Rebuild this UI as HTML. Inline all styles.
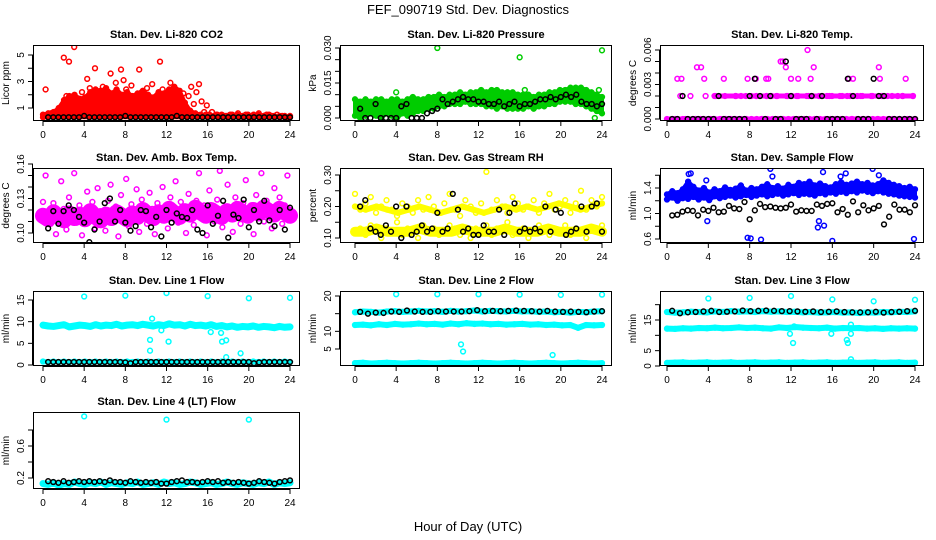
<!DOCTYPE html>
<html><head><meta charset="utf-8"><title>FEF_090719 Std. Dev. Diagnostics</title>
<style>
html,body{margin:0;padding:0;background:#fff;}
svg{display:block;font-family:"Liberation Sans",sans-serif;}
.pt{font-weight:bold;font-size:11px;}
.tk{font-size:10px;}
</style></head>
<body>
<svg id="chart" width="936" height="540" viewBox="0 0 936 540" xmlns="http://www.w3.org/2000/svg">
<text x="468" y="14" text-anchor="middle" font-size="13">FEF_090719  Std. Dev. Diagnostics</text>
<text x="468" y="531" text-anchor="middle" font-size="13">Hour of Day (UTC)</text>
</svg>
<script>
const xTicks=[0,4,8,12,16,20,24];
// CO2
const co2Red=[0.3,2.4,0.5,0.6,0.4,0.7,0.5,0.9,4.8,1.9,4.5,1.2,5.6,1.5,0.8,2.2,1.0,3.2,2.5,1.4,4.0,2.1,1.3,2.6,0.9,2.0,3.6,1.1,2.9,1.8,3.9,3.1,2.4,1.0,2.7,1.6,0.8,3.9,2.2,1.2,2.5,1.5,2.8,0.9,2.0,4.5,2.4,1.1,1.8,2.9,1.4,2.3,0.8,1.7,2.1,1.0,1.9,2.6,1.3,2.2,2.8,1.5,0.7,1.2,0.5,0.7,0.4,0.5,0.4,0.3,0.4,0.3,0.5,0.3,0.4,0.6,0.4,0.3,0.5,0.4,0.3,0.5,0.4,0.6,0.3,0.4,0.5,0.3,0.4,0.3,0.5,0.3,0.4,0.3,0.3,0.3];
const co2Red2=[0.5,0.6,0.7,1.0,1.6,1.9,2.0,1.7,1.8,2.2,2.4,2.3,2.5,2.1,2.4,2.0,2.2,1.9,2.1,2.3,2.0,1.8,2.2,2.1,2.4,2.6,2.3,1.4,0.8,0.6,0.5,0.5,0.4,0.5,0.5,0.4,0.5,0.5,0.4,0.5,0.4,0.5,0.4,0.5,0.4,0.4,0.4,0.4];
const co2Floor=[0.3,0.3,0.3,0.3,0.3,0.3,0.3,0.3,0.3,0.3,0.3,0.3,0.3,0.3,0.3,0.3,0.3,0.3,0.3,0.3,0.3,0.3,0.3,0.3,0.3,0.3,0.3,0.3,0.3,0.3,0.3,0.3,0.3,0.3,0.3,0.3,0.3,0.3,0.3,0.3,0.3,0.3,0.3,0.3,0.3,0.3,0.3,0.3];
const co2Black=[0.3,0.3,0.3,0.3,0.3,0.3,0.3,0.4,0.3,0.3,0.3,0.3,0.3,0.3,0.3,0.4,0.3,0.3,0.3,0.3,0.3,0.3,0.3,0.3,0.3,0.4,0.3,0.3,0.3,0.3,0.3,0.3,0.3,0.3,0.3,0.3,0.3,0.3,0.3,0.3,0.3,0.3,0.3,0.3,0.3,0.3,0.3,0.3];
// Pressure
const prGreenHi=[0.008,0.007,0.008,0.007,0.008,0.008,0.007,0.008,0.008,0.007,0.008,0.009,0.008,0.008,0.009,0.009,0.010,0.009,0.010,0.010,0.011,0.010,0.011,0.011,0.012,0.011,0.012,0.012,0.011,0.011,0.011,0.010,0.010,0.010,0.009,0.010,0.010,0.011,0.011,0.012,0.012,0.013,0.013,0.013,0.012,0.011,0.010,0.009];
const prGreenLo=[0.001,0.000,0.001,0.002,0.001,0.000,0.002,0.001,0.000,0.002,0.001,0.002,0.003,0.003,0.004,0.004,0.005,0.005,0.006,0.006,0.006,0.007,0.006,0.006,0.006,0.005,0.005,0.004,0.005,0.004,0.004,0.004,0.004,0.005,0.004,0.005,0.005,0.006,0.006,0.007,0.007,0.007,0.006,0.006,0.005,0.004,0.003,0.002];
const prGreenOutH=[4,8,12,16,16.5,23.3,23.7,24];
const prGreenOutV=[0.011,0.030,0.011,0.026,0.012,0.000,0.012,0.029];
const prBlack=[0.004,0.000,0.000,0.006,0.000,0.000,0.000,0.000,0.005,0.006,0.000,0.000,0.000,0.002,0.003,0.004,0.008,0.006,0.007,0.008,0.009,0.008,0.008,0.007,0.007,0.006,0.006,0.007,0.005,0.006,0.007,0.005,0.006,0.006,0.007,0.008,0.008,0.009,0.008,0.009,0.010,0.009,0.010,0.007,0.006,0.006,0.005,0.006];
// Li-820 Temp
const tpMag=[0.000,0.002,0.000,0.002,0.000,0.000,0.002,0.000,0.002,0.000,0.000,0.000,0.002,0.002,0.000,0.002,0.002,0.000,0.002,0.002,0.002,0.000,0.002,0.002,0.002,0.000,0.002,0.002,0.000,0.002,0.002,0.002,0.000,0.002,0.002,0.000,0.002,0.002,0.000,0.002,0.000,0.002,0.002,0.000,0.002,0.002,0.000,0.002];
const tpMagTwo=[0.002,0.002,0.002,0.002,0.002,0.002,0.002,0.002,0.002,0.002,0.002,0.002,0.002,0.002,0.002,0.002,0.002,0.002,0.002,0.002];
const tpMagZero=[0,0,0,0,0,0,0,0,0,0,0,0,0,0,0,0,0,0,0,0,0,0,0,0,0,0,0,0,0,0,0,0,0,0,0,0,0,0,0,0,0,0,0,0,0,0,0,0];
const tpOutH=[1.0,1.4,2.9,3.3,3.6,5.5,7.8,8.6,9.6,9.8,11.0,11.2,11.5,12.0,12.7,13.6,13.9,14.2,17.6,18.0,20.5,20.6,23.1];
const tpOutV=[0.0035,0.0035,0.0045,0.0045,0.0035,0.0035,0.0035,0.0035,0.0035,0.0035,0.005,0.005,0.0045,0.0035,0.0035,0.006,0.0035,0.0045,0.0035,0.0035,0.0045,0.0035,0.0035];
const tpBlack=[0.000,0.000,0.002,0.000,0.000,0.000,0.000,0.000,0.000,0.002,0.000,0.000,0.000,0.000,0.000,0.002,0.0035,0.002,0.000,0.002,0.000,0.000,0.005,0.002,0.000,0.000,0.000,0.002,0.000,0.002,0.000,0.000,0.000,0.000,0.0035,0.002,0.000,0.000,0.000,0.0035,0.002,0.002,0.000,0.000,0.000,0.000,0.000,0.000];
// Amb Box Temp
const abMag=[0.127,0.150,0.118,0.108,0.126,0.099,0.113,0.145,0.121,0.103,0.131,0.117,0.152,0.109,0.124,0.098,0.115,0.136,0.111,0.127,0.104,0.139,0.119,0.114,0.102,0.128,0.142,0.110,0.123,0.097,0.133,0.118,0.147,0.106,0.125,0.113,0.138,0.101,0.129,0.116,0.108,0.135,0.121,0.099,0.126,0.112,0.140,0.118,0.104,0.131,0.123,0.145,0.109,0.127,0.115,0.100,0.134,0.120,0.107,0.128,0.152,0.113,0.124,0.098,0.137,0.116,0.110,0.129,0.154,0.105,0.122,0.142,0.114,0.101,0.131,0.119,0.108,0.126,0.146,0.112,0.124,0.099,0.133,0.117,0.152,0.110,0.128,0.121,0.104,0.139,0.115,0.131,0.108,0.124,0.150,0.117];
const abMag2=[0.115,0.112,0.118,0.114,0.111,0.117,0.113,0.116,0.112,0.119,0.114,0.111,0.116,0.113,0.118,0.115,0.112,0.117,0.114,0.120,0.116,0.113,0.118,0.115,0.121,0.117,0.114,0.119,0.116,0.122,0.118,0.115,0.120,0.117,0.114,0.119,0.116,0.121,0.118,0.115,0.120,0.117,0.122,0.119,0.116,0.121,0.118,0.115];
const abBlack=[0.104,0.119,0.108,0.119,0.124,0.120,0.114,0.109,0.092,0.103,0.110,0.126,0.130,0.110,0.120,0.109,0.102,0.106,0.120,0.119,0.105,0.114,0.097,0.120,0.109,0.117,0.114,0.113,0.120,0.103,0.100,0.124,0.108,0.115,0.128,0.096,0.116,0.113,0.129,0.105,0.120,0.110,0.128,0.111,0.106,0.120,0.103,0.122];
// Gas Stream RH
const rhYelHi=[0.24,0.19,0.21,0.23,0.18,0.20,0.22,0.19,0.17,0.21,0.20,0.18,0.22,0.19,0.23,0.20,0.18,0.21,0.24,0.19,0.17,0.22,0.20,0.18,0.21,0.31,0.19,0.22,0.20,0.18,0.23,0.21,0.19,0.20,0.22,0.18,0.21,0.24,0.19,0.20,0.22,0.18,0.21,0.25,0.19,0.22,0.20,0.23];
const rhYelLo=[0.12,0.13,0.11,0.14,0.12,0.10,0.13,0.12,0.15,0.11,0.13,0.12,0.10,0.14,0.12,0.13,0.11,0.12,0.14,0.13,0.11,0.12,0.10,0.13,0.12,0.14,0.11,0.13,0.12,0.15,0.11,0.12,0.13,0.10,0.12,0.14,0.12,0.11,0.13,0.12,0.14,0.11,0.13,0.12,0.10,0.13,0.12,0.14];
const rhYelMidHi=[0.20,0.19,0.20,0.19,0.18,0.19,0.20,0.19,0.18,0.19,0.20,0.19,0.18,0.19,0.20,0.19,0.20,0.19,0.20,0.21,0.20,0.19,0.20,0.21];
const rhYelMidLo=[0.12,0.12,0.13,0.12,0.12,0.12,0.13,0.12,0.12,0.12,0.13,0.12,0.12,0.12,0.13,0.12,0.12,0.12,0.13,0.12,0.12,0.12,0.13,0.12];
const rhBlack=[0.20,0.22,0.13,0.12,0.11,0.14,0.12,0.20,0.10,0.20,0.11,0.12,0.14,0.12,0.13,0.18,0.12,0.13,0.24,0.19,0.12,0.13,0.11,0.11,0.14,0.12,0.12,0.19,0.11,0.18,0.21,0.12,0.13,0.12,0.13,0.12,0.20,0.12,0.19,0.18,0.11,0.12,0.13,0.20,0.12,0.20,0.21,0.12];
// Sample Flow
const sfBlueHi=[1.30,1.35,1.32,1.38,1.50,1.42,1.36,1.40,1.33,1.38,1.35,1.41,1.37,1.39,1.44,1.36,1.40,1.38,1.42,1.46,1.40,1.43,1.39,1.45,1.42,1.48,1.46,1.50,1.44,1.47,1.43,1.41,1.46,1.49,1.45,1.47,1.50,1.46,1.48,1.44,1.46,1.52,1.48,1.45,1.43,1.40,1.42,1.38];
const sfBlueLo=[1.22,1.25,1.20,1.24,1.23,1.26,1.22,1.25,1.21,1.27,1.24,1.26,1.28,1.25,1.27,1.29,1.26,1.28,1.30,1.27,1.29,1.31,1.28,1.30,1.32,1.29,1.31,1.30,1.28,1.32,1.30,1.33,1.31,1.34,1.32,1.35,1.33,1.36,1.34,1.32,1.35,1.33,1.31,1.30,1.28,1.27,1.26,1.25];
const sfOutH=[2.1,2.3,3.8,3.9,7.8,8.1,9.1,10.0,10.2,14.6,14.7,15.1,15.2,16.0,16.8,17.3,19.9,20.5,23.9];
const sfOutV=[1.62,1.63,1.52,0.88,0.62,0.61,0.59,1.70,1.58,0.78,0.88,1.65,0.81,0.57,1.58,1.63,1.70,1.60,0.60];
const sfBlack=[0.97,0.98,1.03,1.05,1.04,0.97,1.06,1.04,1.09,1.02,1.03,1.12,1.08,1.07,1.18,0.91,1.05,1.15,1.10,1.11,1.09,1.08,1.09,1.14,1.03,1.05,1.04,1.04,1.14,1.12,1.15,1.16,1.02,1.07,0.98,1.19,1.02,1.13,1.05,1.08,1.12,0.83,0.95,1.14,1.06,1.06,1.02,1.13];
// Line 1
const l1CyanHi=[9.2,9.0,8.9,9.1,9.3,8.8,9.0,9.2,9.1,8.9,9.3,9.0,9.2,9.1,9.4,9.0,9.2,9.3,9.1,9.4,9.2,9.0,9.3,9.1,9.5,9.2,9.3,9.0,9.4,9.1,9.2,9.0,9.3,8.9,9.1,8.8,9.0,8.7,8.9,8.8,9.0,8.7,8.9,8.8,8.6,8.9,8.7,8.8];
const l1CyanLo=[0.8,0.7,0.8,0.7,0.8,0.7,0.8,0.7,0.8,0.7,0.8,0.7,0.8,0.7,0.8,0.7,0.8,0.7,0.8,0.7,0.8,0.7,0.8,0.7,0.8,0.7,0.8,0.7,0.8,0.7,0.8,0.7,0.8,0.7,0.8,0.7,0.8,0.7,0.8,0.7,0.8,0.7,0.8,0.7,0.8,0.7,0.8,0.7];
const l1OutH=[4,8,12,16,20,24,10.4,10.4,10.6,11.5,12.2,16.3,17.3,17.4,17.8,17.8,19.2];
const l1OutV=[15.8,16.0,16.6,15.9,15.4,15.5,5.8,3.3,10.7,8.0,5.4,7.6,7.4,5.4,5.7,1.8,2.7];
const l1Black=[0.7,0.7,0.7,0.7,0.7,0.7,0.7,0.7,0.7,0.7,0.7,0.7,0.7,0.7,0.7,0.6,0.4,0.7,0.7,0.7,0.7,0.7,0.7,0.7,0.7,0.7,0.7,0.7,0.7,0.7,0.7,0.7,0.7,0.7,0.7,0.7,0.7,0.7,0.7,0.7,0.4,0.6,0.7,0.7,0.7,0.7,0.7,0.7];
// Line 2
const l2CyanHi=[15.4,15.6,15.5,15.3,15.6,15.7,15.5,15.6,15.8,15.6,15.7,15.5,15.8,15.6,15.7,15.9,15.6,15.8,15.7,15.6,15.8,15.6,15.7,15.5,15.6,15.4,15.5,15.3,15.5,15.4,15.6,15.7];
const l2CyanMid=[11.8,11.9,11.7,12.0,11.8,12.1,11.9,12.0,12.2,12.0,12.1,11.9,12.2,12.0,12.3,12.1,12.2,12.0,12.1,11.9,12.0,12.1,11.9,12.0,11.8,11.9,11.7,11.8,11.0,11.8,11.7,11.8];
const l2CyanLo=[1.0,1.1,0.9,1.0,1.1,1.0,0.9,1.0,1.1,1.0,0.9,1.0,1.1,1.0,0.9,1.0,1.1,1.0,0.9,1.0,1.1,1.0,0.9,1.0,1.1,1.0,0.9,1.0,1.1,1.0,0.9,1.0];
const l2OutH=[4,8,12,16,20,24,10.3,10.5,19.2];
const l2OutV=[20.5,20.5,20.5,20.4,20.3,20.4,6.3,4.3,3.3];
const l2Black=[15.5,15.0,15.3,15.2,15.6,15.5,15.9,15.6,15.5,15.5,15.7,15.6,15.6,15.6,15.7,16.0,15.7,15.8,15.7,15.8,15.9,15.8,15.7,15.6,15.8,15.6,15.5,15.6,15.5,15.4,15.6,15.7];
// Line 3
const l3CyanHi=[17.6,17.4,17.5,17.7,17.6,17.5,17.8,17.6,17.9,17.7,17.8,17.6,17.9,17.7,17.8,17.6,17.7,17.5,17.6,17.4,17.5,17.6,17.4,17.5,17.3,17.5,17.4,17.6,17.5,17.7,17.6,17.8];
const l3CyanMid=[12.2,12.1,12.3,12.2,12.4,12.3,12.5,12.3,12.4,12.6,12.4,12.5,12.3,12.2,12.6,12.4,12.7,12.5,12.4,12.3,12.5,12.2,12.4,12.3,12.4,12.2,12.3,12.1,12.3,12.2,12.3,12.2];
const l3CyanLo=[1.0,1.1,1.2,1.0,1.1,1.2,1.0,1.1,1.2,1.0,1.1,1.2,1.0,1.1,1.2,1.0,1.1,1.2,1.0,1.1,1.2,1.0,1.1,1.2,1.0,1.1,1.2,1.0,1.1,1.2,1.0,1.1];
const l3OutH=[4,8,12,16,20,24,12.2,11.9,12.3,15.9,17.5,17.4,17.8,17.8,17.8];
const l3OutV=[22.0,22.2,22.8,21.7,21.1,21.6,7.5,10.5,12.9,10.5,7.5,8.5,13.5,10.5,2.2];
const l3Black=[18.0,17.2,17.5,17.6,17.8,18.0,17.6,17.7,17.8,18.1,17.9,18.0,18.1,18.0,17.9,17.9,17.8,17.7,17.8,17.6,17.7,17.8,17.6,17.5,17.5,17.5,17.7,17.4,17.6,17.7,17.9,18.0];
// Line 4
const l4Cyan=[0.13,0.12,0.14,0.11,0.13,0.12,0.15,0.13,0.12,0.14,0.13,0.15,0.12,0.14,0.13,0.12,0.14,0.13,0.15,0.12,0.13,0.14,0.12,0.15,0.13,0.14,0.12,0.13,0.15,0.14,0.12,0.13,0.14,0.12,0.13,0.15,0.13,0.12,0.14,0.13,0.12,0.14,0.13,0.15,0.12,0.14,0.13,0.14];
const l4OutH=[4,12,20];
const l4OutV=[0.97,0.93,0.93];
const l4Black=[0.16,0.15,0.14,0.16,0.14,0.15,0.16,0.15,0.16,0.15,0.16,0.15,0.17,0.15,0.15,0.14,0.16,0.15,0.14,0.15,0.14,0.15,0.13,0.13,0.15,0.16,0.17,0.15,0.15,0.14,0.15,0.16,0.15,0.16,0.14,0.15,0.14,0.15,0.14,0.13,0.14,0.16,0.15,0.14,0.13,0.15,0.16,0.17];

const SVG='http://www.w3.org/2000/svg';
const svg=document.getElementById('chart');
const cols=[{l:33,r:300,x0:43,x24:290},{l:340,r:612,x0:355,x24:602},{l:660,r:924,x0:667,x24:915}];
const rows=[{t:45,b:121},{t:168,b:243},{t:291,b:366},{t:412,b:489}];
function mk(tag,attrs,parent){const e=document.createElementNS(SVG,tag);for(const k in attrs)e.setAttribute(k,attrs[k]);(parent||svg).appendChild(e);return e;}

function panel(name,ci,ri,title,ylab,yRef,yTicks,yLabels,series){
  const c=cols[ci],r=rows[ri];
  const g=mk('g',{});
  
  
  const xs=h=>c.x0+(c.x24-c.x0)*h/24;
  const ys=v=>yRef[1]+(v-yRef[0])*(yRef[3]-yRef[1])/(yRef[2]-yRef[0]);
  const t=mk('text',{x:(c.l+c.r)/2,y:r.t-7,'text-anchor':'middle',class:'pt'},g);t.textContent=title;
  
  
  const yl=mk('text',{x:0,y:0,'text-anchor':'middle','font-size':'10',transform:`translate(${c.l-24},${(r.t+r.b)/2}) rotate(-90)`},g);yl.textContent=ylab;
  
  
  const ax=mk('g',{stroke:'#000','stroke-width':1},g);
  
  
  mk('line',{x1:c.x0,x2:c.x24,y1:r.b+0.5,y2:r.b+0.5},ax);
  xTicks.forEach(h=>{const x=xs(h);mk('line',{x1:x,x2:x,y1:r.b,y2:r.b+5},ax);
    const tx=mk('text',{x:x,y:r.b+17,'text-anchor':'middle',class:'tk',stroke:'none'},g);tx.textContent=h;
    
    });
  const yv=yTicks.map(ys);
  mk('line',{x1:c.l-0.5,x2:c.l-0.5,y1:Math.min(...yv),y2:Math.max(...yv)},ax);
  yTicks.forEach((v,i)=>{const y=ys(v);mk('line',{x1:c.l-5,x2:c.l,y1:y,y2:y},ax);
    if(yLabels[i]!==''){const ty=mk('text',{x:0,y:0,'text-anchor':'middle',class:'tk',transform:`translate(${c.l-9},${y}) rotate(-90)`},g);ty.textContent=yLabels[i];
    
    }});
  const cp='cp'+name;
  const d=mk('clipPath',{id:cp},g);mk('rect',{x:c.l,y:r.t,width:c.r-c.l,height:r.b-r.t},d);
  const pts=mk('g',{'clip-path':`url(#${cp})`,fill:'none','stroke-width':1.5},g);
  series.forEach(s=>{
    const sg=mk('g',{stroke:s.color},pts);
    
    
    const n=s.v.length;
    const hx=i=>s.h?s.h[i]:s.h0+(s.h1-s.h0)*i/(n-1);
    if(s.area){
      const fwd=s.v.map((v,i)=>xs(hx(i))+','+ys(v));
      const back=s.area.map((v,i)=>xs(hx(i))+','+ys(v)).reverse();
      const poly=mk('polygon',{points:fwd.concat(back).join(' '),fill:s.color,stroke:s.color,'stroke-width':4,'stroke-linejoin':'round'},sg);
      
      
    }
    if(s.band){
      const pl=mk('polyline',{points:s.v.map((v,i)=>xs(hx(i))+','+ys(v)).join(' '),fill:'none','stroke-width':s.band,'stroke-linejoin':'round','stroke-linecap':'round'},sg);
      
      
    }
    s.v.forEach((v,i)=>{
      const p=mk('circle',{cx:xs(hx(i)),cy:ys(v),r:2.4},sg);
      
      
    });
  });
  mk('rect',{x:c.l+0.5,y:r.t+0.5,width:c.r-c.l-1,height:r.b-r.t-1,fill:'none',stroke:'#000'},g);
}
const R='#ff0000',G='#00cc00',M='#ff00ff',Y='#ffff00',B='#0000ff',C='#00ffff',K='#000';
panel('co2',0,0,'Stan. Dev. Li-820 CO2','Licor ppm',[1,108,5,55],[1,2,3,4,5],['1','','3','','5'],[
 {name:'red-band',color:R,v:co2Red2,area:co2Floor,h0:0,h1:24},{name:'red-series',color:R,v:co2Red,h0:0,h1:24},{name:'black-series',color:K,v:co2Black,h0:0.5,h1:24}]);
panel('pressure',1,0,'Stan. Dev. Li-820 Pressure','kPa',[0,118,0.03,48],[0,0.005,0.01,0.015,0.02,0.025,0.03],['0.000','','','0.015','','','0.030'],[
 {name:'green-upper',color:G,v:prGreenHi,area:prGreenLo,h0:0,h1:24},{name:'green-lower',color:G,v:prGreenLo,h0:0,h1:24},{name:'green-outliers',color:G,v:prGreenOutV,h:prGreenOutH},{name:'black-series',color:K,v:prBlack,h0:0.5,h1:24}]);
panel('li820temp',2,0,'Stan. Dev. Li-820 Temp.','degrees C',[0,119,0.006,50],[0,0.001,0.002,0.003,0.004,0.005,0.006],['0.000','','','0.003','','','0.006'],[
 {name:'magenta-zero',color:M,v:tpMagZero,band:5,h0:0,h1:24},{name:'magenta-level2',color:M,v:tpMagTwo,band:5,h0:4.6,h1:23.8},{name:'magenta-series',color:M,v:tpMag,h0:0.8,h1:23.8},{name:'magenta-outliers',color:M,v:tpOutV,h:tpOutH},{name:'black-series',color:K,v:tpBlack,h0:0.5,h1:24}]);
panel('ambbox',0,1,'Stan. Dev. Amb. Box Temp.','degrees C',[0.10,233,0.16,164],[0.10,0.11,0.12,0.13,0.14,0.15,0.16],['0.10','','','0.13','','','0.16'],[
 {name:'magenta-band',color:M,v:abMag2,band:16,h0:0,h1:24},{name:'magenta-series',color:M,v:abMag,h0:0,h1:24},{name:'black-series',color:K,v:abBlack,h0:0.5,h1:24}]);
panel('rh',1,1,'Stan. Dev. Gas Stream RH','percent',[0.10,238,0.30,175],[0.10,0.15,0.20,0.25,0.30],['0.10','','0.20','','0.30'],[
 {name:'yellow-low-band',color:Y,v:rhYelMidLo,band:10,h0:0,h1:24},{name:'yellow-high-band',color:Y,v:rhYelMidHi,band:6,h0:0,h1:24},{name:'yellow-upper',color:Y,v:rhYelHi,h0:0,h1:24},{name:'yellow-lower',color:Y,v:rhYelLo,h0:0,h1:24},{name:'black-series',color:K,v:rhBlack,h0:0.5,h1:24}]);
panel('sampleflow',2,1,'Stan. Dev. Sample Flow','ml/min',[0.6,239,1.4,188],[0.6,0.8,1.0,1.2,1.4,1.6],['0.6','','1.0','','1.4',''],[
 {name:'blue-upper',color:B,v:sfBlueHi,area:sfBlueLo,h0:0,h1:24},{name:'blue-lower',color:B,v:sfBlueLo,h0:0,h1:24},{name:'blue-outliers',color:B,v:sfOutV,h:sfOutH},{name:'black-series',color:K,v:sfBlack,h0:0.5,h1:24}]);
panel('line1',0,2,'Stan. Dev. Line 1 Flow','ml/min',[0,365,15,300],[0,5,10,15],['0','5','10','15'],[
 {name:'cyan-upper',color:C,v:l1CyanHi,band:7,h0:0,h1:24},{name:'cyan-lower',color:C,v:l1CyanLo,band:5,h0:0,h1:24},{name:'cyan-outliers',color:C,v:l1OutV,h:l1OutH},{name:'black-series',color:K,v:l1Black,h0:0.5,h1:24}]);
panel('line2',1,2,'Stan. Dev. Line 2 Flow','ml/min',[5,349,20,296],[5,10,15,20],['5','10','','20'],[
 {name:'cyan-upper',color:C,v:l2CyanHi,band:6,h0:0,h1:24},{name:'cyan-middle',color:C,v:l2CyanMid,band:6,h0:0,h1:24},{name:'cyan-lower',color:C,v:l2CyanLo,band:6,h0:0,h1:24},{name:'cyan-outliers',color:C,v:l2OutV,h:l2OutH},{name:'black-series',color:K,v:l2Black,h0:0.5,h1:24}]);
panel('line3',2,2,'Stan. Dev. Line 3 Flow','ml/min',[0,366,15,320],[0,5,10,15,20],['0','5','','15',''],[
 {name:'cyan-upper',color:C,v:l3CyanHi,band:6,h0:0,h1:24},{name:'cyan-middle',color:C,v:l3CyanMid,band:6,h0:0,h1:24},{name:'cyan-lower',color:C,v:l3CyanLo,band:6,h0:0,h1:24},{name:'cyan-outliers',color:C,v:l3OutV,h:l3OutH},{name:'black-series',color:K,v:l3Black,h0:0.5,h1:24}]);
panel('line4',0,3,'Stan. Dev. Line 4 (LT) Flow','ml/min',[0.2,478,0.6,446],[0.2,0.4,0.6,0.8],['0.2','','0.6',''],[
 {name:'cyan-series',color:C,v:l4Cyan,band:7,h0:0,h1:24},{name:'cyan-outliers',color:C,v:l4OutV,h:l4OutH},{name:'black-series',color:K,v:l4Black,h0:0.5,h1:24}]);
</script>
</body></html>
